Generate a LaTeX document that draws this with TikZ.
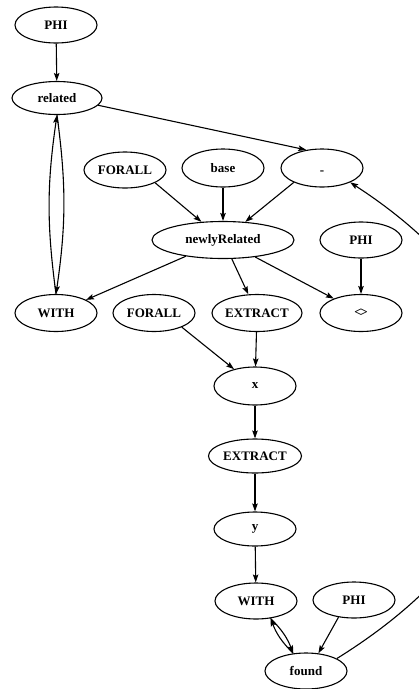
\documentclass[tikz,border=0pt]{standalone}
\usepackage{fontspec}
\setmainfont{Liberation Serif}
\usetikzlibrary{shapes.geometric,arrows.meta}

\tikzset{
  op/.style={ellipse, draw, line width=1.1pt, inner sep=0pt,
    minimum width=82pt, minimum height=36pt,
    font=\fontsize{13}{15}\selectfont\bfseries},
  arr/.style={line width=1.1pt, -{Stealth[length=8pt,width=5.5pt,inset=1.5pt]}},
}

\begin{document}
\begin{tikzpicture}[x=1pt,y=-1pt]
  \useasboundingbox (0,0) rectangle (419,689);
  \clip (0,0) rectangle (419,689);

  % query graph nodes
  \node[op] (phiA)     at (56,25)   {PHI};
  \node[op, minimum width=90pt, minimum height=33pt] (related) at (57,98) {related};
  \node[op] (forallA)  at (125,170) {FORALL};
  \node[op, minimum height=38pt] (base)  at (223,168) {base};
  \node[op, minimum height=38pt, text height=6pt, text depth=0pt] (minus) at (322,168) {\raisebox{-3pt}{-}};
  \node[op, minimum width=142pt, minimum height=37pt] (newly) at (223,240) {newlyRelated};
  \node[op] (phiB)     at (361,240) {PHI};
  \node[op, minimum height=37pt] (withA)    at (56,313)  {WITH};
  \node[op, minimum height=37pt] (forallB)  at (154,313) {FORALL};
  \node[op, minimum width=90pt, minimum height=37pt] (extractA) at (257,313) {EXTRACT};
  \node[op, minimum height=37pt] (neq)      at (361,313) {<\kern-1.4pt>};
  \node[op, minimum height=38pt] (xnode)    at (255,386) {x};
  \node[op, minimum width=93pt, minimum height=34pt] (extractB) at (255,456) {EXTRACT};
  \node[op, minimum height=34pt] (ynode)    at (255,529) {y};
  \node[op] (withB)    at (256,601) {WITH};
  \node[op] (phiC)     at (354,600) {PHI};
  \node[op] (found)    at (306,671) {found};

  % connectors
  \draw[arr] (phiA) -- (related);
  \draw[arr] (related.-10) -- (minus.131);
  \draw[arr] (related.south) to[bend left=8] (withA.north);
  \draw[arr] (withA.north) to[bend left=8] (related.south);
  \draw[arr] (forallA.-23) -- (newly);
  \draw[arr] (base) -- (newly);
  \draw[arr] (minus.207) -- (newly);
  \draw[arr] (newly) -- (withA);
  \draw[arr] (newly) -- (extractA);
  \draw[arr] (newly) -- (neq);
  \draw[arr] (phiB) -- (neq);
  \draw[arr] (forallB.-27) -- (xnode);
  \draw[arr] (extractA) -- (xnode);
  \draw[arr] (xnode) -- (extractB);
  \draw[arr] (extractB) -- (ynode);
  \draw[arr] (ynode) -- (withB);
  \draw[arr] (withB.-50) to[bend left=12] (found.126);
  \draw[arr] (found.126) to[bend left=12] (withB.-50);
  \draw[arr] (phiC.-132) -- (found.55);
  \draw[arr] (found.22) .. controls (560,520) and (570,325) .. (minus.-27);
\end{tikzpicture}
\end{document}
